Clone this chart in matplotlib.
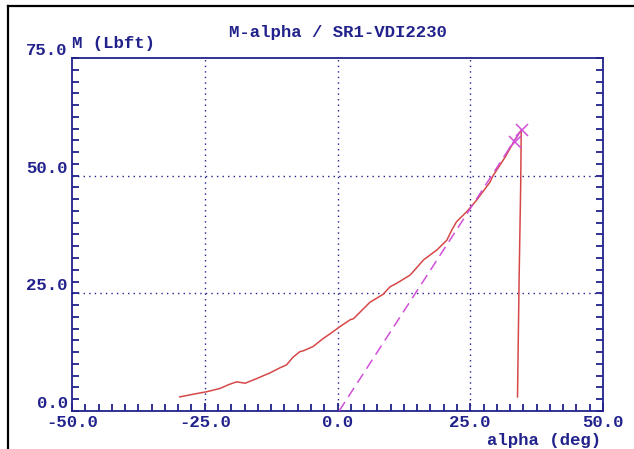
import matplotlib
matplotlib.use("Agg")
import matplotlib.pyplot as plt
from matplotlib.lines import Line2D
import numpy as np

# ---- data ----
alpha = [-29.7, -27.0, -24.6, -22.1, -20.5, -19.0, -17.4, -15.2, -12.7, -10.8,
         -9.6, -8.4, -7.1, -6.4, -4.6, -2.7, -1.4, 0.3, 2.4, 3.0, 6.1, 8.6,
         9.9, 11.1, 13.7, 16.2, 18.7, 20.6, 21.5, 22.4, 24.3, 26.2, 28.7,
         29.3, 31.6, 33.4, 34.6, 34.5, 34.2, 33.9]
moment = [3.0, 3.6, 4.1, 4.8, 5.6, 6.2, 5.9, 6.9, 8.1, 9.2,
          9.8, 11.4, 12.6, 12.8, 13.7, 15.4, 16.4, 17.8, 19.4, 19.6, 23.1, 24.8,
          26.4, 27.1, 28.9, 32.1, 34.2, 36.3, 38.4, 40.2, 42.3, 44.8, 48.6,
          50.0, 54.0, 57.6, 59.7, 48.0, 28.0, 3.0]
secant_alpha = [0.3, 34.6]
secant_m = [0.0, 59.7]
marker_alpha = [33.4, 34.8]
marker_m = [57.2, 59.7]

xticks = [-50, -25, 0, 25, 50]
xlabels = ["-50.0", "-25.0", "0.0", "25.0", "50.0"]
yticks = [0, 25, 50, 75]
ylabels = ["0.0", "25.0", "50.0", "75.0"]

title = "M-alpha / SR1-VDI2230"
ylabel = "M (Lbft)"
xlabel = "alpha (deg)"

# ---- style ----
NAVY = "#22228c"
RED = "#d64848"
MAG = "#d050d8"
FONT = dict(family="Liberation Mono", weight="bold", size=12.5, color=NAVY)

W, H = 634, 449
fig = plt.figure(figsize=(W / 100, H / 100), dpi=100)
L, R, T, B = 72, 603, 58, 411
ax = fig.add_axes([L / W, (H - B) / H, (R - L) / W, (B - T) / H])

ax.plot(alpha, moment, color=RED, lw=1.1, zorder=3)
ax.plot(secant_alpha, secant_m, color=MAG, lw=1.1, dashes=(7, 4), zorder=4)
ax.plot(marker_alpha, marker_m, ls="none", marker="x", ms=8, mew=1.1,
        color=MAG, zorder=5)

ax.set_xlim(-50, 50)
ax.set_ylim(0, 75)

ax.set_xticks(xticks)
ax.set_xticklabels(xlabels, fontdict=FONT)
ax.set_xticks(np.arange(-50, 50.01, 2.5), minor=True)
ax.set_yticks(yticks)
ax.set_yticklabels(ylabels, fontdict=FONT)
ax.set_yticks(np.arange(0, 75.01, 2.5), minor=True)

ax.tick_params(axis="x", which="both", direction="in", color=NAVY, width=1.3,
               top=False, bottom=True, pad=3)
ax.tick_params(axis="x", which="major", length=6)
ax.tick_params(axis="x", which="minor", length=5)
ax.tick_params(axis="y", which="both", direction="in", color=NAVY, width=1.3,
               left=True, right=True, pad=3, length=5)
for lbl in ax.get_yticklabels():
    lbl.set_va("bottom")

for s in ax.spines.values():
    s.set_color(NAVY)
    s.set_linewidth(1.3)

for x in [-25, 0, 25]:
    ax.axvline(x, color=NAVY, lw=1.0, ls=(0, (1, 3)), zorder=1)
for y in [25, 50]:
    ax.axhline(y, color=NAVY, lw=1.0, ls=(0, (1, 3)), zorder=1)

fig.text(337.5 / W, 1 - 32 / H, title, ha="center", va="center", **FONT)
fig.text(72 / W, 1 - 48 / H, ylabel, ha="left", va="baseline", **FONT)
fig.text(601 / W, 1 - 441 / H, xlabel, ha="right", va="center", **FONT)

# outer frame (left and top edges)
fig.add_artist(Line2D([8 / W, 8 / W], [0, 1 - 6 / H], color="black", lw=1.6,
                      transform=fig.transFigure))
fig.add_artist(Line2D([8 / W, 1], [1 - 6 / H, 1 - 6 / H], color="black", lw=1.6,
                      transform=fig.transFigure))

fig.savefig("out.png", dpi=100)
